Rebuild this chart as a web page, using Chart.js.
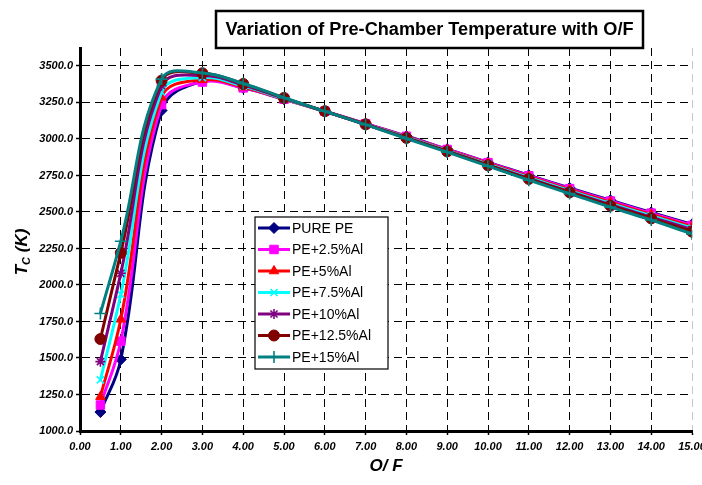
<!DOCTYPE html>
<html><head><meta charset="utf-8">
<script src="https://cdn.jsdelivr.net/npm/chart.js@4"></script>
<style>html,body{margin:0;padding:0;background:#fff}#wrap{width:702px;height:485px;position:relative}</style>
</head><body><div id="wrap"><canvas id="c" width="702" height="485"></canvas></div>
<script>
// ---- data ----
const xValues = [0.5, 1, 2, 3, 4, 5, 6, 7, 8, 9, 10, 11, 12, 13, 14, 15];
const seriesNames = ["PURE PE", "PE+2.5%Al", "PE+5%Al", "PE+7.5%Al", "PE+10%Al", "PE+12.5%Al", "PE+15%Al"];
const purePE   = [1130, 1490, 3195, 3395, 3350, 3272, 3190, 3105, 3020, 2930, 2840, 2752, 2665, 2580, 2497, 2415];
const pe2_5Al  = [1178, 1615, 3235, 3390, 3350, 3272, 3190, 3104, 3018, 2928, 2838, 2748, 2660, 2575, 2492, 2408];
const pe5Al    = [1235, 1765, 3285, 3405, 3355, 3273, 3189, 3102, 3015, 2924, 2833, 2742, 2653, 2567, 2483, 2400];
const pe7_5Al  = [1350, 1935, 3322, 3420, 3362, 3275, 3189, 3100, 3012, 2920, 2828, 2736, 2646, 2558, 2474, 2390];
const pe10Al   = [1475, 2080, 3365, 3435, 3370, 3278, 3189, 3099, 3009, 2916, 2823, 2730, 2639, 2550, 2465, 2380];
const pe12_5Al = [1630, 2220, 3400, 3450, 3377, 3281, 3190, 3100, 3007, 2915, 2820, 2726, 2635, 2543, 2456, 2365];
const pe15Al   = [1805, 2300, 3410, 3452, 3380, 3282, 3190, 3098, 3003, 2910, 2814, 2718, 2626, 2533, 2445, 2350];
const seriesValues = [purePE, pe2_5Al, pe5Al, pe7_5Al, pe10Al, pe12_5Al, pe15Al];
const yTickValues = [1000, 1250, 1500, 1750, 2000, 2250, 2500, 2750, 3000, 3250, 3500];
const xTickValues = [0, 1, 2, 3, 4, 5, 6, 7, 8, 9, 10, 11, 12, 13, 14, 15];
const chartTitle = "Variation of Pre-Chamber Temperature with O/F";
const xAxisTitle = "O/ F";

// ---- styles ----
const colors = ["#000080", "#FF00FF", "#FF0000", "#00FFFF", "#800080", "#800000", "#008080"];
const pStyles = ["rectRot", "rect", "triangle", "crossRot", "star", "circle", "cross"];
const pRadius = [5.5, 6, 5.5, 5, 5, 5.5, 6];
const pBorder = [1, 1, 1, 1.6, 1.6, 1, 1.6];
const FONT = '"Liberation Sans", Arial, Helvetica, sans-serif';

const datasets = seriesNames.map((name, i) => ({
  label: name,
  data: xValues.map((x, j) => ({x: x, y: seriesValues[i][j]})),
  borderColor: colors[i],
  backgroundColor: colors[i],
  pointBackgroundColor: colors[i],
  pointBorderColor: colors[i],
  pointStyle: pStyles[i],
  pointRadius: pRadius[i],
  pointBorderWidth: pBorder[i],
  borderWidth: 3,
  tension: 0.4,
  fill: false,
  order: seriesNames.length - 1 - i
}));

const titleBoxPlugin = {
  id: 'titleBox',
  afterDraw(chart) {
    const ctx = chart.ctx;
    ctx.save();
    ctx.lineWidth = 2.5;
    ctx.strokeStyle = '#000';
    ctx.strokeRect(216, 11, 427, 37);
    ctx.font = 'bold 18px "Liberation Sans Narrow", "Liberation Sans", Arial, sans-serif';
    const w = ctx.measureText(chartTitle).width;
    const target = 408;
    ctx.translate(429.5, 30);
    ctx.scale(target / w, 1);
    ctx.fillStyle = '#000';
    ctx.textAlign = 'center';
    ctx.textBaseline = 'middle';
    ctx.fillText(chartTitle, 0, 0);
    ctx.restore();
  }
};

const yTitlePlugin = {
  id: 'yTitle',
  afterDraw(chart) {
    const ctx = chart.ctx;
    ctx.save();
    ctx.translate(21, 252);
    ctx.rotate(-Math.PI / 2);
    ctx.fillStyle = '#000';
    ctx.textBaseline = 'alphabetic';
    const big = 'italic bold 17px ' + FONT;
    const small = 'italic bold 11px ' + FONT;
    ctx.font = big; const wT = ctx.measureText('T').width;
    ctx.font = small; const wC = ctx.measureText('C').width;
    ctx.font = big; const wK = ctx.measureText(' (K)').width;
    let x = -(wT + wC + wK) / 2;
    const base = 6;
    ctx.font = big; ctx.fillText('T', x, base); x += wT;
    ctx.font = small; ctx.fillText('C', x, base + 3); x += wC;
    ctx.font = big; ctx.fillText(' (K)', x, base);
    ctx.restore();
  }
};

const legendBoxPlugin = {
  id: 'legendBox',
  afterDraw(chart) {
    const ctx = chart.ctx;
    ctx.save();
    const bx = 255, by = 217, bw = 133, bh = 152;
    ctx.fillStyle = '#fff';
    ctx.fillRect(bx, by, bw, bh);
    ctx.lineWidth = 1.2;
    ctx.strokeStyle = '#000';
    ctx.strokeRect(bx, by, bw, bh);
    ctx.font = '14px ' + FONT;
    ctx.textBaseline = 'middle';
    seriesNames.forEach((name, i) => {
      const y = 228 + i * 21.5;
      ctx.strokeStyle = colors[i];
      ctx.lineWidth = 3;
      ctx.beginPath(); ctx.moveTo(258, y); ctx.lineTo(290, y); ctx.stroke();
      ctx.fillStyle = colors[i];
      ctx.lineWidth = pBorder[i];
      Chart.helpers.drawPoint(ctx, {pointStyle: pStyles[i], radius: pRadius[i], rotation: 0, borderWidth: pBorder[i]}, 274, y);
      ctx.fillStyle = '#000';
      ctx.fillText(name, 292, y + 1);
    });
    ctx.restore();
  }
};

new Chart(document.getElementById('c'), {
  type: 'line',
  data: {datasets},
  options: {
    responsive: false,
    devicePixelRatio: 1,
    animation: false,
    layout: {padding: {top: 48, right: 10, left: 0, bottom: 0}},
    plugins: {legend: {display: false}, tooltip: {enabled: false}, title: {display: false}},
    scales: {
      x: {
        type: 'linear', min: 0, max: 15,
        afterBuildTicks(scale) { scale.ticks = xTickValues.map(v => ({value: v})); },
        afterFit(scale) { scale.height = 54; scale.paddingLeft = 0; scale.paddingRight = 0; },
        ticks: {
          autoSkip: false, maxRotation: 0, padding: 5, color: '#000',
          font: {family: FONT, size: 11, style: 'italic', weight: 'bold'},
          callback: v => Number(v).toFixed(2)
        },
        grid: {
          color: c => (c.tick && c.tick.value === 15) ? '#c8c8c8' : '#000',
          lineWidth: 1, drawTicks: true, tickLength: 4, tickColor: '#000', tickWidth: 1.5
        },
        border: {display: true, color: '#000', width: 3, dash: [8, 5]},
        title: {display: true, text: xAxisTitle, color: '#000', padding: {top: 0, bottom: 8},
          font: {family: FONT, size: 17, style: 'italic', weight: 'bold'}}
      },
      y: {
        type: 'linear', min: 1000, max: 3623,
        afterBuildTicks(scale) { scale.ticks = yTickValues.map(v => ({value: v})); },
        afterFit(scale) { scale.width = 80; scale.paddingTop = 0; scale.paddingBottom = 0; },
        ticks: {
          padding: 3, color: '#000',
          font: {family: FONT, size: 11, style: 'italic', weight: 'bold'},
          callback: v => Number(v).toFixed(1)
        },
        grid: {color: '#000', lineWidth: 1, drawTicks: true, tickLength: 4, tickColor: '#000', tickWidth: 1.5},
        border: {display: true, color: '#000', width: 3, dash: [8, 5]}
      }
    }
  },
  plugins: [titleBoxPlugin, yTitlePlugin, legendBoxPlugin]
});
</script>
</body></html>
